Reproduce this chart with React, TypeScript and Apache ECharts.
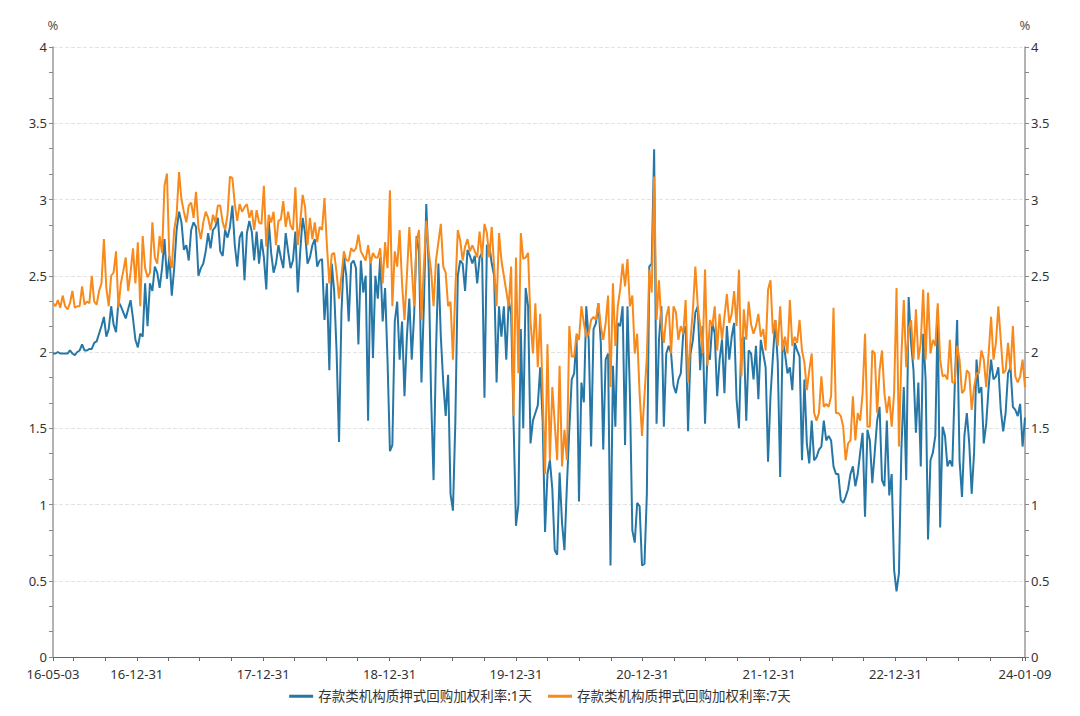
import React, { useEffect, useRef } from "react";
import * as echarts from "echarts";

const seriesNames = ["存款类机构质押式回购加权利率:1天", "存款类机构质押式回购加权利率:7天"];
const seriesColors = ["#2777a6", "#f88a1c"];
const startDay = [2016, 4, 3];
const endDay = [2024, 0, 9];
const labelYearEnds = [2016, 2017, 2018, 2019, 2020, 2021, 2022];
const tickYears = [2016, 2017, 2018, 2019, 2020, 2021, 2022, 2023];
const yTicks = ["0", "0.5", "1", "1.5", "2", "2.5", "3", "3.5", "4"];

// weekly observations starting 2016-05-03
const rate1D = [
  1.99,1.99,2.0,1.99,1.99,1.99,1.99,2.01,1.99,1.98,
  2.0,2.01,2.05,2.01,2.01,2.02,2.02,2.06,2.07,2.12,
  2.17,2.23,2.10,2.15,2.30,2.18,2.13,2.33,2.30,2.26,
  2.22,2.28,2.34,2.22,2.08,2.03,2.12,2.10,2.45,2.17,
  2.45,2.40,2.56,2.52,2.42,2.55,2.74,2.48,2.63,2.37,
  2.55,2.80,2.92,2.85,2.67,2.70,2.60,2.80,2.85,2.82,
  2.50,2.55,2.58,2.66,2.78,2.68,2.80,2.82,2.88,
  2.66,2.63,2.80,2.75,2.82,2.96,2.70,2.56,2.75,2.79,
  2.47,2.78,2.86,2.79,2.60,2.79,2.58,2.74,2.62,2.41,
  2.86,2.65,2.52,2.58,2.70,2.62,2.55,2.78,2.66,2.55,
  2.60,2.79,2.39,2.66,2.88,2.78,2.58,2.62,2.70,2.74,
  2.56,2.60,2.61,2.21,2.45,1.88,2.58,2.40,2.00,1.41,
  2.26,2.62,2.50,2.20,2.58,2.60,2.55,2.05,2.60,2.39,
  2.50,1.55,2.60,1.96,2.50,2.35,2.62,2.20,
  2.42,1.95,1.35,1.39,2.20,2.33,1.95,2.20,1.71,2.10,
  2.35,1.95,2.25,2.76,2.66,1.80,2.30,2.97,2.55,1.70,
  1.16,2.00,2.58,2.10,1.80,1.58,1.85,1.07,0.96,1.55,
  2.50,2.60,2.58,2.40,2.67,2.63,2.58,2.63,2.45,2.62,
  2.65,1.70,2.70,2.70,2.58,2.50,1.80,2.30,2.10,2.30,
  1.95,2.34,2.25,1.55,0.86,1.00,2.15,1.50,2.42,2.30,
  1.40,1.55,1.60,1.65,1.90,1.55,0.82,1.20,
  1.29,1.10,0.70,0.67,1.21,0.88,0.70,1.12,1.49,1.82,
  1.86,2.10,1.02,1.80,1.67,2.30,2.08,1.38,2.15,2.19,
  2.32,2.06,1.36,1.95,1.99,0.60,1.91,1.51,2.19,2.17,
  2.30,1.39,2.30,1.73,0.83,0.75,1.01,0.99,0.60,0.61,
  1.07,2.56,2.58,3.33,1.53,2.08,2.30,1.51,1.99,2.04,
  1.99,1.78,1.73,1.82,1.86,2.12,2.17,1.48,1.99,2.08,
  2.26,2.30,1.88,2.17,1.53,1.99,1.95,2.19,
  2.12,1.71,1.95,2.08,1.73,2.17,1.95,2.10,2.19,1.69,
  1.50,2.08,2.10,1.55,2.01,1.99,1.82,2.04,1.69,2.08,
  1.99,1.90,1.28,1.71,1.97,2.21,1.93,1.18,2.08,1.99,
  1.86,1.90,1.75,2.06,2.01,1.97,1.29,1.82,1.40,1.27,
  1.55,1.29,1.31,1.36,1.38,1.55,1.42,1.45,1.42,1.25,
  1.20,1.20,1.03,1.01,1.05,1.10,1.20,1.25,1.12,1.20,
  1.34,1.47,0.92,1.49,1.42,1.14,1.34,1.55,1.64,
  1.16,1.12,1.55,1.06,1.20,0.57,0.43,0.55,1.36,1.77,
  1.16,2.36,2.06,1.88,1.47,1.80,1.25,2.12,1.82,0.77,
  1.29,1.34,1.45,2.28,0.85,1.51,1.45,1.25,1.29,1.25,
  1.77,2.21,1.29,1.05,1.45,1.60,1.40,1.07,1.34,1.95,
  1.73,1.77,1.40,1.53,1.77,1.95,1.82,1.84,1.90,1.62,
  1.48,1.60,1.86,1.90,1.64,1.62,1.58,1.66,1.38,1.57,
];

const rate7D = [
  2.32,2.30,2.34,2.29,2.37,2.30,2.28,2.32,2.40,2.29,
  2.30,2.30,2.43,2.31,2.33,2.32,2.50,2.33,2.31,2.40,
  2.45,2.74,2.42,2.30,2.50,2.52,2.66,2.29,2.45,2.53,
  2.62,2.40,2.52,2.68,2.45,2.72,2.30,2.76,2.55,2.49,
  2.52,2.85,2.62,2.58,2.76,2.65,3.09,3.17,2.62,2.55,
  2.80,2.90,3.18,3.00,2.92,2.85,2.96,2.98,2.88,3.05,
  2.82,2.74,2.85,2.92,2.88,2.80,2.90,2.85,2.96,
  2.96,2.85,2.80,2.90,3.15,3.14,2.97,2.86,2.97,2.92,
  2.95,2.97,2.88,2.93,2.80,2.93,2.85,2.84,3.09,2.69,
  2.90,2.85,2.92,2.70,2.86,2.87,2.99,2.82,2.92,2.83,
  2.80,3.08,2.70,2.85,3.03,2.95,2.70,2.88,2.74,2.85,
  2.72,2.82,2.80,3.01,2.70,2.45,2.64,2.65,2.52,2.35,
  2.50,2.66,2.60,2.60,2.68,2.66,2.68,2.77,2.66,2.63,
  2.60,2.70,2.58,2.65,2.62,2.62,2.68,2.45,
  2.72,2.55,3.06,2.30,2.66,2.56,2.80,2.45,2.21,2.50,
  2.82,2.55,2.30,2.73,2.80,2.21,2.56,2.86,2.66,2.53,
  2.30,2.60,2.72,2.84,2.56,2.52,2.30,2.33,1.95,2.42,
  2.80,2.73,2.60,2.69,2.74,2.66,2.70,2.66,2.62,2.79,
  2.62,2.84,2.78,2.62,2.82,2.55,2.30,2.78,2.60,2.50,
  2.40,2.30,2.56,1.58,2.62,1.86,2.78,2.61,2.62,2.65,
  2.20,1.99,2.32,1.90,2.25,1.73,1.20,2.05,
  1.29,1.77,1.53,1.29,1.91,1.25,1.49,1.29,2.17,1.97,
  1.97,2.12,2.08,2.30,2.19,2.10,2.12,2.21,2.23,2.21,
  2.32,2.17,2.08,2.19,2.37,1.77,2.45,2.04,2.30,2.41,
  2.58,2.43,2.61,2.30,2.37,1.99,2.12,1.73,1.45,1.71,
  1.97,2.54,2.39,3.15,2.21,2.47,2.19,2.06,2.23,2.30,
  1.99,2.30,2.26,2.08,2.17,2.12,2.34,1.80,2.08,2.28,
  2.56,2.30,2.17,1.99,2.54,1.91,2.21,2.17,
  2.30,2.01,2.25,2.08,2.23,2.38,2.19,2.25,2.40,2.17,
  2.54,1.84,2.28,2.08,2.33,2.18,2.12,2.17,2.25,2.10,
  2.15,2.01,2.41,2.47,2.12,2.21,2.04,2.30,2.01,2.10,
  1.99,2.34,2.04,2.10,2.06,2.21,2.01,1.93,1.75,1.88,
  1.99,1.60,1.55,1.60,1.84,1.64,1.66,1.64,1.71,2.29,
  1.60,1.60,1.58,1.51,1.29,1.40,1.42,1.71,1.42,1.60,
  1.55,1.73,2.12,1.51,1.51,2.01,1.99,1.60,1.88,
  2.01,1.73,1.60,1.71,1.51,1.73,2.42,1.38,1.97,2.34,
  1.90,2.15,2.21,1.95,2.28,1.95,2.06,2.41,1.95,2.39,
  1.99,2.08,2.04,2.32,1.95,1.84,1.85,1.82,2.08,1.80,
  1.80,2.04,1.95,1.73,1.75,1.88,1.86,1.62,1.77,1.86,
  1.86,2.01,1.95,1.77,1.99,2.23,1.95,2.06,2.30,2.08,
  1.86,1.88,2.06,1.88,2.17,1.84,1.80,1.84,1.95,1.77,
];

const pad = (n: number) => (n < 10 ? "0" + n : "" + n);
const fmtDate = (v: number) => {
  const d = new Date(v);
  return `${pad(d.getFullYear() % 100)}-${pad(d.getMonth() + 1)}-${pad(d.getDate())}`;
};

export default function App() {
  const ref = useRef<HTMLDivElement>(null);
  useEffect(() => {
    if (!ref.current) return;
    const chart = echarts.init(ref.current, null, { renderer: "svg" });
    const startTs = new Date(startDay[0], startDay[1], startDay[2]).getTime();
    const endTs = new Date(endDay[0], endDay[1], endDay[2]).getTime();
    const dates = rate1D.map((_, i) => new Date(startDay[0], startDay[1], startDay[2] + 7 * i).getTime());
    const labelValues = [startTs, ...labelYearEnds.map((y) => new Date(y, 11, 31).getTime()), endTs];
    const tickValues: number[] = [startTs];
    tickYears.forEach((y) => {
      [3, 6, 9, 12].forEach((m) => {
        const t = new Date(y, m, 0).getTime();
        if (t > startTs && t < endTs) tickValues.push(t);
      });
    });
    tickValues.push(endTs);

    const font = "'Noto Sans', 'Noto Sans CJK SC', sans-serif";
    const yAxisBase = (pos: "left" | "right") => ({
      type: "value",
      position: pos,
      min: 0,
      max: 4,
      interval: 0.5,
      name: "%",
      nameLocation: "end",
      nameGap: 16,
      nameTextStyle: { color: "#555", fontSize: 13, fontFamily: font, align: "center" },
      axisLine: { show: true, lineStyle: { color: "#9a9a9a", width: 1.5 } },
      axisTick: { show: true, length: 4, lineStyle: { color: "#888" } },
      minorTick: { show: true, splitNumber: 3, length: 4, lineStyle: { color: "#888" } },
      axisLabel: {
        color: "#333",
        fontSize: 13,
        lineHeight: 13,
        fontFamily: font,
        margin: 6,
        verticalAlign: "middle",
        formatter: (v: number) => yTicks[Math.round(v * 2)] ?? String(v),
      },
      splitLine: pos === "left" ? { show: true, lineStyle: { color: "#e3e3e3", type: "dashed" } } : { show: false },
    });

    chart.setOption({
      animation: false,
      textStyle: { fontFamily: font },
      grid: { left: 53, right: 55, top: 47, bottom: 59, containLabel: false },
      legend: {
        bottom: 8,
        left: "center",
        icon: "rect",
        itemWidth: 24,
        itemHeight: 3,
        itemGap: 16,
        textStyle: { color: "#333", fontSize: 13.5, fontFamily: font },
        data: seriesNames,
      },
      xAxis: {
        type: "value",
        min: startTs,
        max: endTs,
        axisLine: { show: true, lineStyle: { color: "#666", width: 1 } },
        axisTick: { show: true, length: 4, customValues: tickValues, lineStyle: { color: "#666" } },
        axisLabel: {
          customValues: labelValues,
          color: "#333",
          fontSize: 13,
          lineHeight: 13,
          fontFamily: font,
          margin: 10,
          formatter: (v: number) => fmtDate(v),
        },
        splitLine: { show: false },
      },
      yAxis: [yAxisBase("left"), yAxisBase("right")],
      series: [
        {
          name: seriesNames[0],
          type: "line",
          yAxisIndex: 0,
          data: dates.map((d, i) => [d, rate1D[i]]),
          symbol: "none",
          lineStyle: { width: 2, color: seriesColors[0] },
          itemStyle: { color: seriesColors[0] },
          z: 2,
        },
        {
          name: seriesNames[1],
          type: "line",
          yAxisIndex: 0,
          data: dates.map((d, i) => [d, rate7D[i]]),
          symbol: "none",
          lineStyle: { width: 2, color: seriesColors[1] },
          itemStyle: { color: seriesColors[1] },
          z: 3,
        },
      ],
    });
    return () => chart.dispose();
  }, []);
  return (
    <div
      ref={ref}
      style={{ position: "fixed", left: 0, top: 0, width: 1080, height: 716, background: "#fff" }}
    />
  );
}
